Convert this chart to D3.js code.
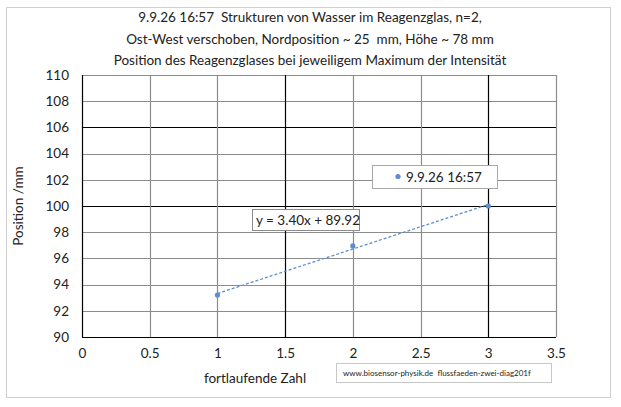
<!DOCTYPE html>
<html>
<head>
<meta charset="utf-8">
<script src="https://cdn.jsdelivr.net/npm/d3@7"></script>
<style>
  body { margin: 0; background: #fff; }
  text { font-family: Lato, "Open Sans", sans-serif; fill: #222; white-space: pre; }
</style>
</head>
<body>
<div id="viz"></div>
<script>
const width = 621;
const height = 407;
const margin = {top: 75, right: 65, bottom: 70, left: 82};
const seriesColor = '#5b8fd0';

// data
const xValues = [1, 2, 3];
const yValues = [93.2, 96.95, 100.0];
const xTicks = [0, 0.5, 1, 1.5, 2, 2.5, 3, 3.5];
const yTicks = [90, 92, 94, 96, 98, 100, 102, 104, 106, 108, 110];
const darkX = [1.5, 3];
const darkY = [100, 106];
const titleLines = [
  '9.9.26 16:57  Strukturen von Wasser im Reagenzglas, n=2,',
  'Ost-West verschoben, Nordposition ~ 25  mm, Höhe ~ 78 mm',
  'Position des Reagenzglases bei jeweiligem Maximum der Intensität'
];
const legendLabel = '9.9.26 16:57';
const xTitle = 'fortlaufende Zahl';
const yTitle = 'Position /mm';
const sourceNote = 'www.biosensor-physik.de  flussfaeden-zwei-diag201f';

const data = xValues.map((x, i) => ({x: x, y: yValues[i]}));

// linear fit like the spreadsheet trendline
const mx = d3.mean(data, d => d.x);
const my = d3.mean(data, d => d.y);
const slope = d3.sum(data, d => (d.x - mx) * (d.y - my)) / d3.sum(data, d => (d.x - mx) ** 2);
const intercept = my - slope * mx;

const xScale = d3.scaleLinear().domain([0, 3.5]).range([margin.left, width - margin.right]);
const yScale = d3.scaleLinear().domain([90, 110]).range([height - margin.bottom, margin.top]);

const svg = d3.select('#viz').append('svg')
  .attr('width', width)
  .attr('height', height);

// outer chart frame
svg.append('rect')
  .attr('x', 6.5).attr('y', 7.5)
  .attr('width', 604).attr('height', 390)
  .attr('fill', '#fff')
  .attr('stroke', '#d0d0d0');

// gridlines
svg.append('g')
  .selectAll('line')
  .data(yTicks)
  .join('line')
    .attr('x1', xScale(0)).attr('x2', xScale(3.5))
    .attr('y1', d => Math.round(yScale(d)) + 0.5)
    .attr('y2', d => Math.round(yScale(d)) + 0.5)
    .attr('stroke', d => darkY.includes(d) || d === 90 ? '#000' : '#8c8c8c')
    .attr('stroke-width', 1.2);

svg.append('g')
  .selectAll('line')
  .data(xTicks)
  .join('line')
    .attr('y1', yScale(90)).attr('y2', yScale(110))
    .attr('x1', d => Math.round(xScale(d)) + 0.5)
    .attr('x2', d => Math.round(xScale(d)) + 0.5)
    .attr('stroke', d => darkX.includes(d) || d === 0 ? '#000' : '#8c8c8c')
    .attr('stroke-width', 1.2);

// axes (labels only)
const yAxis = svg.append('g')
  .attr('transform', `translate(${margin.left - 13}, 0)`)
  .call(d3.axisLeft(yScale).tickValues(yTicks).tickSize(0).tickPadding(0));
yAxis.select('.domain').remove();
yAxis.selectAll('text')
  .style('font-family', 'Lato, sans-serif')
  .style('font-size', '13.5px')
  .attr('fill', '#222');

const xAxis = svg.append('g')
  .attr('transform', `translate(0, ${height - margin.bottom + 11})`)
  .call(d3.axisBottom(xScale).tickValues(xTicks).tickSize(0).tickPadding(0).tickFormat(d3.format('')));
xAxis.select('.domain').remove();
xAxis.selectAll('text')
  .style('font-family', 'Lato, sans-serif')
  .style('font-size', '13.5px')
  .attr('fill', '#222');

// trendline
const lineGen = d3.line().x(d => xScale(d)).y(d => yScale(slope * d + intercept));
svg.append('path')
  .attr('d', lineGen([xValues[0], xValues[xValues.length - 1]]))
  .attr('fill', 'none')
  .attr('stroke', seriesColor)
  .attr('stroke-width', 1.3)
  .attr('stroke-dasharray', '3,2');

// points
svg.append('g')
  .selectAll('circle')
  .data(data)
  .join('circle')
    .attr('cx', d => xScale(d.x))
    .attr('cy', d => yScale(d.y))
    .attr('r', 2.6)
    .attr('fill', seriesColor);

// title
svg.append('g')
  .selectAll('text')
  .data(titleLines)
  .join('text')
    .attr('x', 310)
    .attr('y', (d, i) => 22 + i * 21.5)
    .attr('text-anchor', 'middle')
    .style('font-size', '13.5px')
    .text(d => d);

// axis titles
svg.append('text')
  .attr('x', 255).attr('y', 383)
  .attr('text-anchor', 'middle')
  .style('font-size', '13.5px')
  .text(xTitle);

svg.append('text')
  .attr('transform', 'translate(23, 206) rotate(-90)')
  .attr('text-anchor', 'middle')
  .style('font-size', '13.5px')
  .text(yTitle);

// trendline label
const eqText = `y = ${slope.toFixed(2)}x + ${intercept.toFixed(2)}`;
svg.append('rect')
  .attr('x', 252.5).attr('y', 209.5)
  .attr('width', 107).attr('height', 21)
  .attr('fill', '#fff')
  .attr('stroke', '#8c8c8c');
svg.append('text')
  .attr('x', 256).attr('y', 225)
  .style('font-size', '13.5px')
  .text(eqText);

// legend
svg.append('rect')
  .attr('x', 372.5).attr('y', 165.5)
  .attr('width', 125).attr('height', 23)
  .attr('fill', '#fff')
  .attr('stroke', '#a8a8a8');
svg.append('circle')
  .attr('cx', 398).attr('cy', 176.5)
  .attr('r', 2.6)
  .attr('fill', seriesColor);
svg.append('text')
  .attr('x', 406).attr('y', 182)
  .style('font-size', '13.5px')
  .text(legendLabel);

// source note
svg.append('rect')
  .attr('x', 336.5).attr('y', 363.5)
  .attr('width', 215).attr('height', 19)
  .attr('fill', '#fff')
  .attr('stroke', '#c8c8c8');
svg.append('text')
  .attr('x', 343).attr('y', 376)
  .style('font-size', '8px')
  .text(sourceNote);
</script>
</body>
</html>
